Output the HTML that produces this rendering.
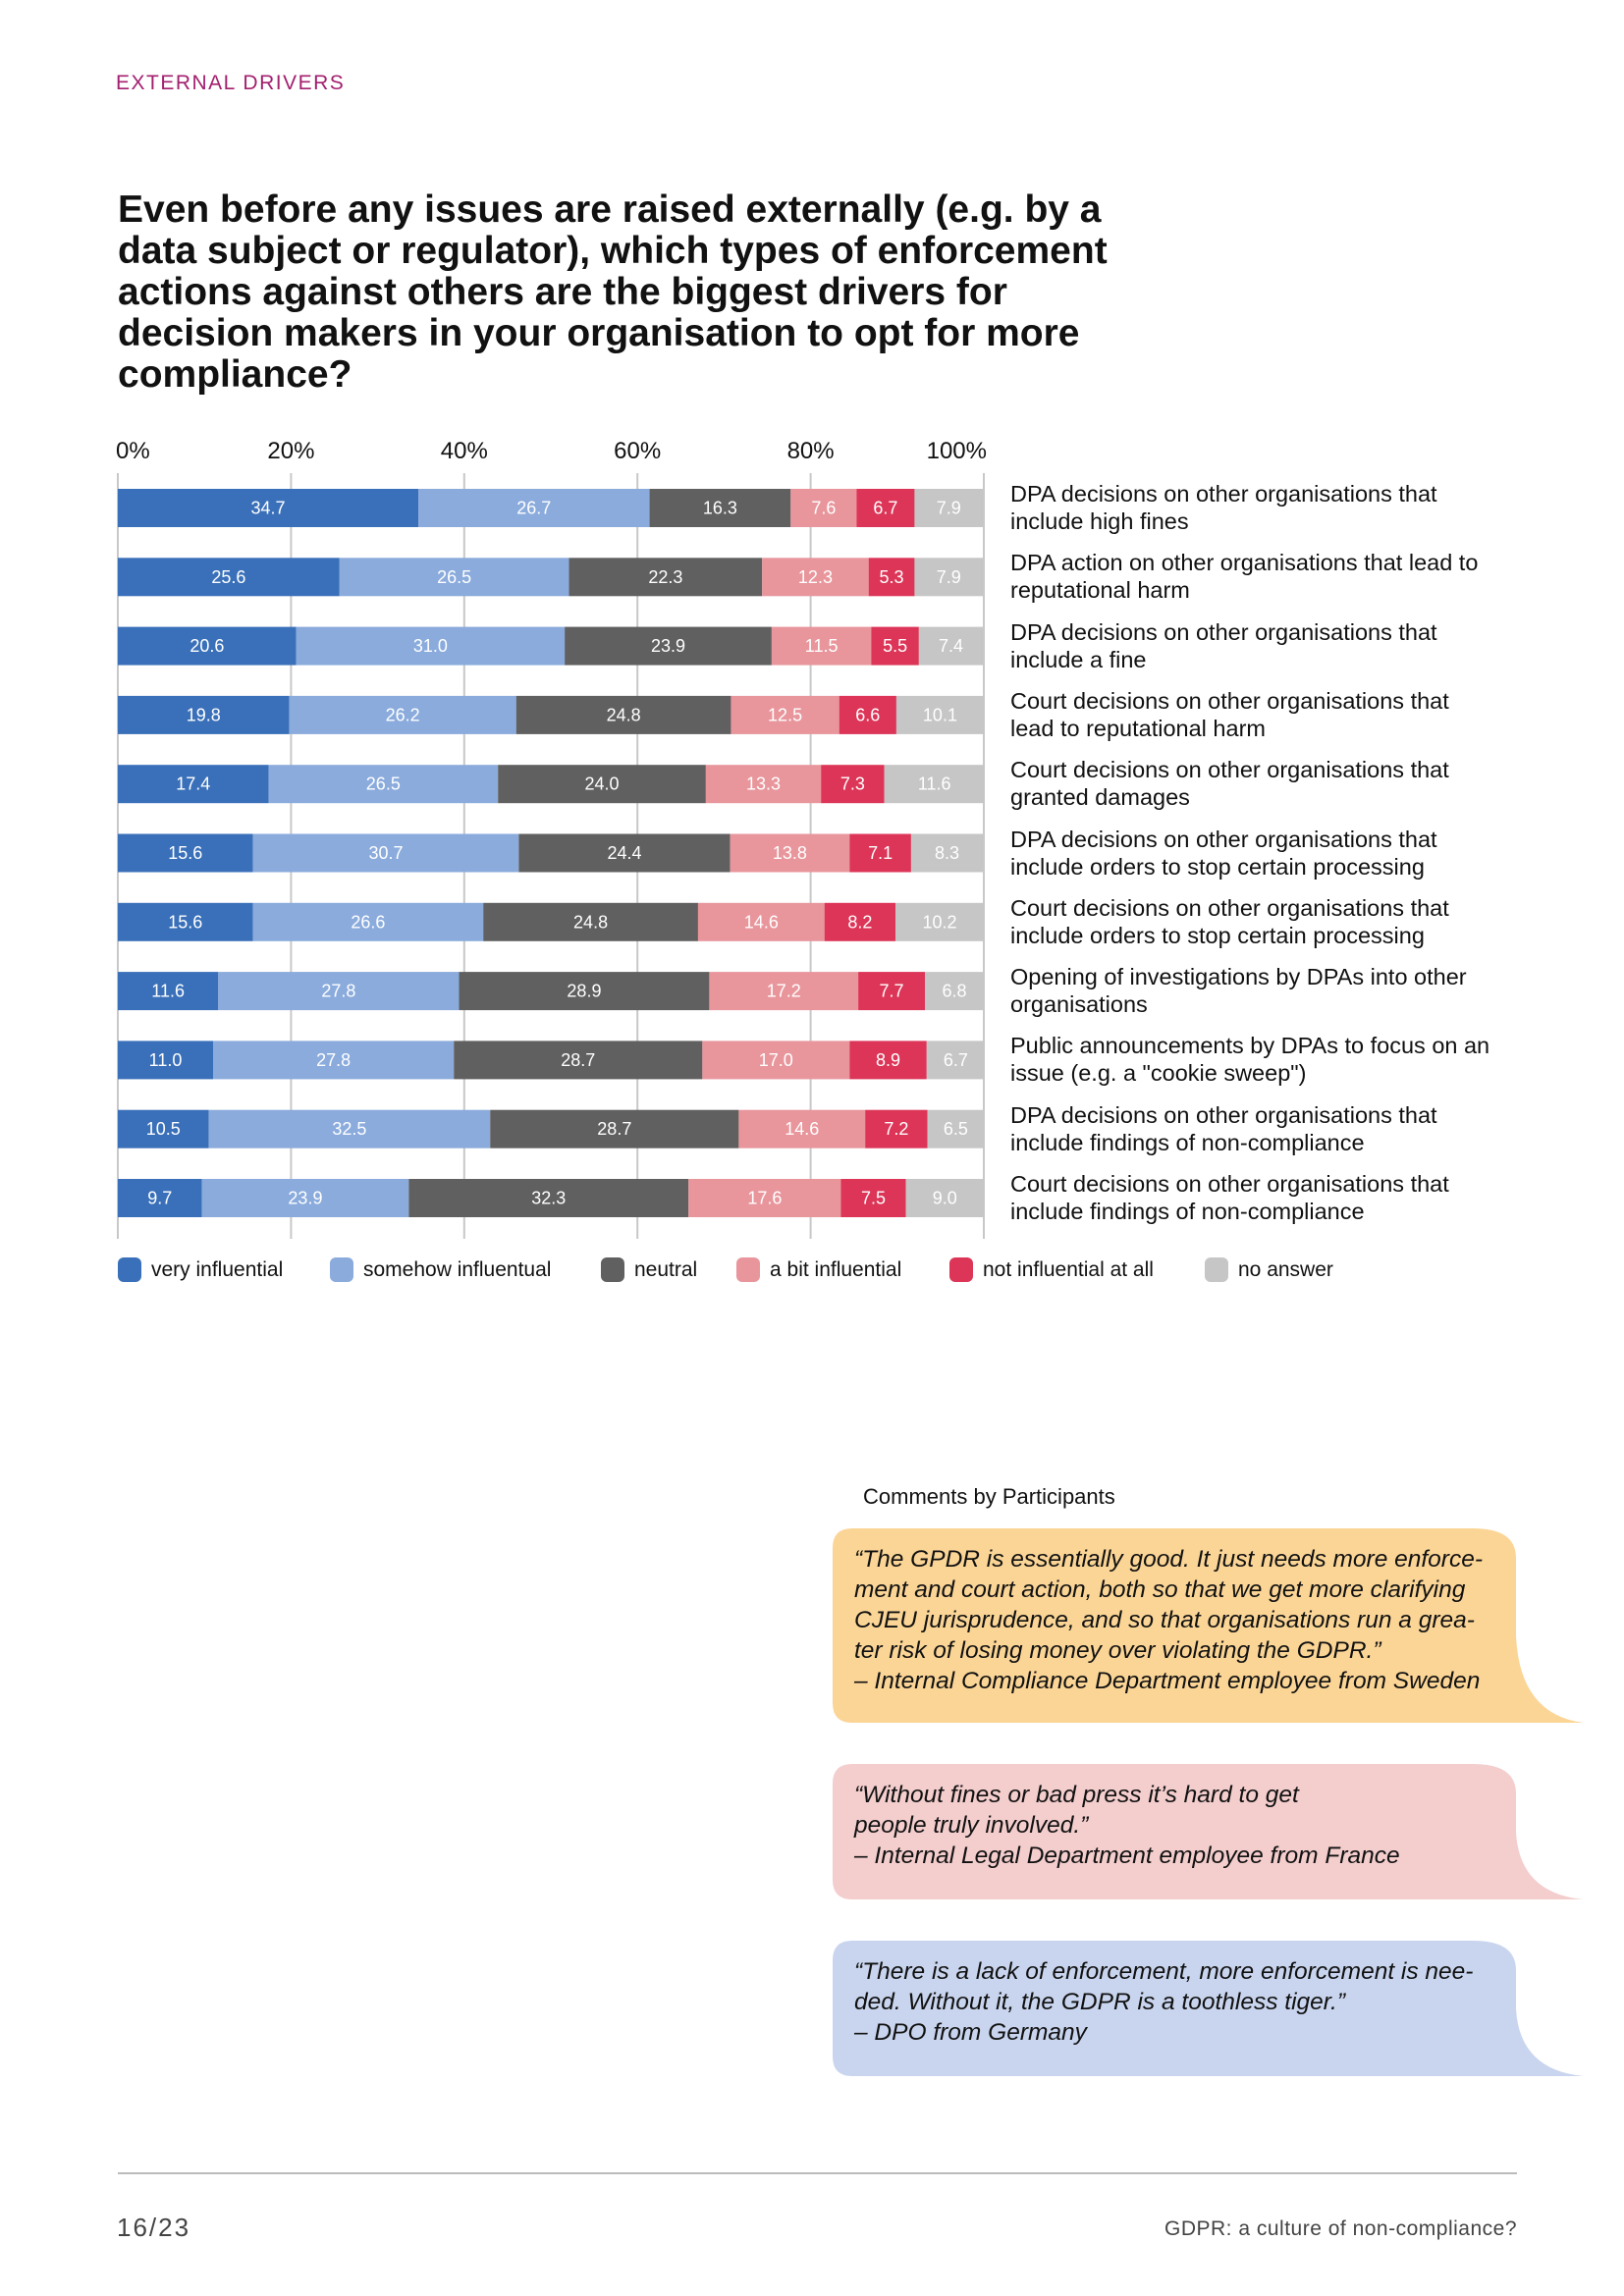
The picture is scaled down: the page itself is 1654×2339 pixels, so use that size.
<!DOCTYPE html>
<html><head><meta charset="utf-8"><style>
body{margin:0;background:#fff;}
#page{position:relative;width:1654px;height:2339px;overflow:hidden;font-family:"Liberation Sans",sans-serif;color:#111;}
.abs{position:absolute;}
.hdr{left:118px;top:73px;font-size:21px;letter-spacing:1.5px;color:#a3206f;}
.title{left:120px;top:193px;font-size:39px;font-weight:bold;line-height:42px;width:1300px;white-space:nowrap;}
.rlabel{position:absolute;left:1029px;font-size:23.5px;line-height:28px;color:#111;white-space:nowrap;}
.leg{position:absolute;top:1281px;font-size:21px;display:flex;align-items:center;}
.leg i{display:inline-block;width:24px;height:25px;border-radius:6px;margin-right:10px;}
.q{position:absolute;left:848px;width:700px;}
.q p{position:relative;margin:0;padding:0 0 0 22px;font-style:italic;font-size:24.5px;line-height:31px;color:#111;white-space:nowrap;}
</style></head><body>
<div id="page">
<div class="abs hdr">EXTERNAL DRIVERS</div>
<div class="abs title">Even before any issues are raised externally (e.g. by a<br>data subject or regulator), which types of enforcement<br>actions against others are the biggest drivers for<br>decision makers in your organisation to opt for more<br>compliance?</div>
<svg id="chart" class="abs" style="left:0;top:0" width="1654" height="1280"></svg>
<div id="labels"></div>
<div id="legend"></div>

<div class="abs" style="left:879px;top:1512px;font-size:22px;">Comments by Participants</div>

<div class="q" style="top:1557px;height:198px;">
<svg class="abs" style="left:0;top:0" width="770" height="198"><path d="M20 0 H652 Q696 0 696 30 V110 Q700 190 765 198 H20 Q0 198 0 178 V20 Q0 0 20 0Z" fill="#fbd596"/></svg>
<p style="top:16px">“The GPDR is essentially good. It just needs more enforce-<br>ment and court action, both so that we get more clarifying<br>CJEU jurisprudence, and so that organisations run a grea-<br>ter risk of losing money over violating the GDPR.”<br>– Internal Compliance Department employee from Sweden</p></div>

<div class="q" style="top:1797px;height:138px;">
<svg class="abs" style="left:0;top:0" width="770" height="138"><path d="M20 0 H652 Q696 0 696 30 V70 Q700 132 765 138 H20 Q0 138 0 118 V20 Q0 0 20 0Z" fill="#f4cdcd"/></svg>
<p style="top:16px">“Without fines or bad press it’s hard to get<br>people truly involved.”<br>– Internal Legal Department employee from France</p></div>

<div class="q" style="top:1977px;height:138px;">
<svg class="abs" style="left:0;top:0" width="770" height="138"><path d="M20 0 H652 Q696 0 696 30 V70 Q700 132 765 138 H20 Q0 138 0 118 V20 Q0 0 20 0Z" fill="#c9d5ee"/></svg>
<p style="top:16px">“There is a lack of enforcement, more enforcement is nee-<br>ded. Without it, the GDPR is a toothless tiger.”<br>– DPO from Germany</p></div>

<div class="abs" style="left:120px;top:2213px;width:1425px;height:2px;background:#bbb;"></div>
<div class="abs" style="left:119px;top:2254px;font-size:26px;letter-spacing:2px;color:#444;">16/23</div>
<div class="abs" style="right:109px;top:2259px;font-size:21px;letter-spacing:0.5px;color:#444;">GDPR: a culture of non-compliance?</div>
</div>
<script>
const categories=["DPA decisions on other organisations that|include high fines","DPA action on other organisations that lead to|reputational harm","DPA decisions on other organisations that|include a fine","Court decisions on other organisations that|lead to reputational harm","Court decisions on other organisations that|granted damages","DPA decisions on other organisations that|include orders to stop certain processing","Court decisions on other organisations that|include orders to stop certain processing","Opening of investigations by DPAs into other|organisations","Public announcements by DPAs to focus on an|issue (e.g. a \"cookie sweep\")","DPA decisions on other organisations that|include findings of non-compliance","Court decisions on other organisations that|include findings of non-compliance"];
const veryInfluential=[34.7,25.6,20.6,19.8,17.4,15.6,15.6,11.6,11.0,10.5,9.7];
const somehowInfluential=[26.7,26.5,31.0,26.2,26.5,30.7,26.6,27.8,27.8,32.5,23.9];
const neutral=[16.3,22.3,23.9,24.8,24.0,24.4,24.8,28.9,28.7,28.7,32.3];
const bitInfluential=[7.6,12.3,11.5,12.5,13.3,13.8,14.6,17.2,17.0,14.6,17.6];
const notInfluential=[6.7,5.3,5.5,6.6,7.3,7.1,8.2,7.7,8.9,7.2,7.5];
const noAnswer=[7.9,7.9,7.4,10.1,11.6,8.3,10.2,6.8,6.7,6.5,9.0];
const seriesNames=["very influential","somehow influentual","neutral","a bit influential","not influential at all","no answer"];
const ticks=[0,20,40,60,80,100];
const series=[veryInfluential,somehowInfluential,neutral,bitInfluential,notInfluential,noAnswer];
const colors=["#3a70b9","#8aabdc","#606060","#e8969c","#dc3557","#c6c6c6"];
const X0=120,X1=1002,Y0=498,PITCH=70.3,BH=39;
const x=v=>X0+(X1-X0)*v/100;
const y=i=>Y0+i*PITCH;
const NS="http://www.w3.org/2000/svg";
const svg=document.getElementById('chart');
function mk(t,a){const e=document.createElementNS(NS,t);for(const k in a)e.setAttribute(k,a[k]);return e;}
ticks.forEach(t=>{
  const l=mk('line',{x1:x(t),x2:x(t),y1:482,y2:1262,stroke:'#c8c8c8','stroke-width':2});
  
  
  svg.appendChild(l);
  const tx=mk('text',{x:t===0?x(t)-2:(t===100?x(t)+3:x(t)),y:467,'font-size':24,'text-anchor':t===0?'start':(t===100?'end':'middle'),fill:'#111'});
  tx.textContent=t+'%';
  
  
  svg.appendChild(tx);
});
categories.forEach((c,i)=>{
  let acc=0;
  series.forEach((s,j)=>{
    const v=s[i];
    const r=mk('rect',{x:x(acc),y:y(i),width:x(acc+v)-x(acc),height:BH,fill:colors[j]});
    
    
    svg.appendChild(r);
    const t=mk('text',{x:(x(acc)+x(acc+v))/2,y:y(i)+BH/2+6,'font-size':18,'text-anchor':'middle',fill:'#fff'});
    t.textContent=v.toFixed(1);
    
    
    svg.appendChild(t);
    acc+=v;
  });
  const d=document.createElement('div');
  d.className='rlabel';
  d.style.top=(y(i)-9)+'px';
  d.innerHTML=c.split('|').join('<br>');
  
  
  document.getElementById('labels').appendChild(d);
});
const legX=[120,336,612,750,967,1227];
seriesNames.forEach((n,j)=>{
  const d=document.createElement('div');
  d.className='leg';
  d.style.left=legX[j]+'px';
  d.innerHTML='<i style="background:'+colors[j]+'"></i>'+n;
  
  
  document.getElementById('legend').appendChild(d);
});
</script>
</body></html>
